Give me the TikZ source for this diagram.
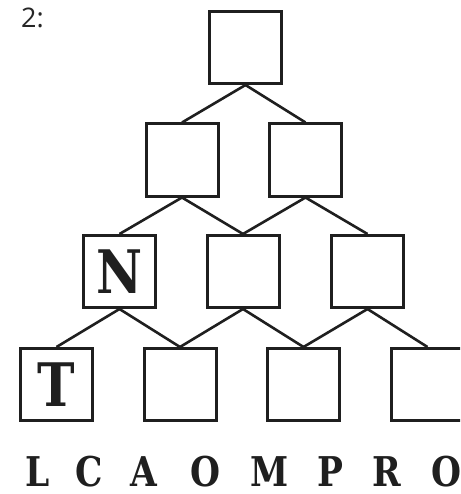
\documentclass[tikz,border=0pt]{standalone}
\usepackage{fontspec}
\setmainfont{DejaVu Serif}
\newfontfamily\slabfont[FakeStretch=0.84]{DejaVu Serif}
\newfontfamily\labelfont{Open Sans}
\begin{document}
\begin{tikzpicture}[x=1pt,y=-1pt,
  cell/.style={draw=black!88,line width=3pt,minimum size=72pt,inner sep=0pt,
               font=\slabfont\bfseries\fontsize{60}{60}\selectfont,text=black!88},
  link/.style={draw=black!88,line width=2.6pt},
  letter/.style={inner sep=0pt,text depth=0pt,font=\slabfont\bfseries\fontsize{41}{41}\selectfont,text=black!88,anchor=south}]
\useasboundingbox (0,0) rectangle (460,494);
\clip (0,0) rectangle (460,494);
% pyramid of cells
\node[cell] (a1) at (245.5,47.5) {};
\node[cell] (b1) at (182,160) {};
\node[cell] (b2) at (305.5,160) {};
\node[cell] (c1) at (119.5,271.5) {N};
\node[cell] (c2) at (243,271.5) {};
\node[cell] (c3) at (367.5,271.5) {};
\node[cell] (d1) at (56.5,384.5) {T};
\node[cell] (d2) at (180,384.5) {};
\node[cell] (d3) at (303.5,384.5) {};
\node[cell] (d4) at (427.5,384.5) {};
% connectors from each cell to the two below it
\foreach \p/\l/\r in {a1/b1/b2, b1/c1/c2, b2/c2/c3, c1/d1/d2, c2/d2/d3, c3/d3/d4}{
  \draw[link] (\p.south) -- (\l.north);
  \draw[link] (\p.south) -- (\r.north);
}
% puzzle number
\node[font=\labelfont\fontsize{27}{27}\selectfont,text=black!85,anchor=north west,inner sep=0pt] (num) at (21,8) {2:};
% letter pool
\foreach \x/\ch [count=\i] in {37.5/L,89/C,143.5/A,205.5/O,269.5/M,330/P,386.5/R,446/O}{
  \node[letter] (ltr\i) at (\x,487) {\ch};
}
\end{tikzpicture}
\end{document}
